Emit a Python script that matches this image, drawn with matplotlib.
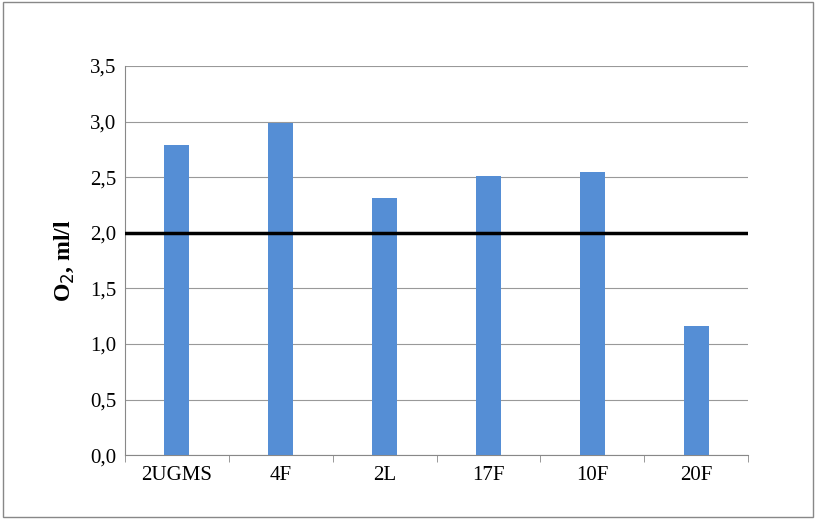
import matplotlib.pyplot as plt
from matplotlib.patches import Rectangle
import numpy as np

stations = ['2UGMS', '4F', '2L', '17F', '10F', '20F']
oxygen = [2.79, 2.99, 2.31, 2.51, 2.55, 1.16]
threshold = 2.0

plt.rcParams['font.family'] = ['Liberation Serif', 'DejaVu Serif']

fig = plt.figure(figsize=(8.16, 5.19), dpi=100)
fig.patches.append(Rectangle((0.004, 0.004), 0.992, 0.992, transform=fig.transFigure,
                             fill=False, ec='#888888', lw=1))
ax = fig.add_axes([0.153, 0.123, 0.764, 0.75])

x = np.arange(len(stations))
ax.bar(x, oxygen, width=0.24, color='#558ed5', zorder=3)
ax.axhline(threshold, color='black', lw=2.5, zorder=4)

ax.set_xlim(-0.5, len(stations) - 0.5)
ax.set_ylim(0, 3.5)
yt = np.arange(0, 3.51, 0.5)
ax.set_yticks(yt)
ax.set_yticklabels([f'{v:.1f}'.replace('.', ',') for v in yt], fontsize=15)
ax.yaxis.grid(True, color='#999999', lw=0.8, zorder=0)
ax.tick_params(axis='y', length=0, pad=6)

ax.set_xticks(x)
ax.set_xticklabels(stations, fontsize=15)
ax.set_xticks(np.arange(-0.5, len(stations)), minor=True)
ax.tick_params(axis='x', which='major', length=0, pad=8)
ax.tick_params(axis='x', which='minor', length=5, color='#888888')

for s in ['top', 'right']:
    ax.spines[s].set_visible(False)
for s in ['left', 'bottom']:
    ax.spines[s].set_color('#888888')

ax.set_ylabel('O$_2$, ml/l', fontsize=17, fontweight='bold', labelpad=10)

fig.savefig('out.png', dpi=100)
